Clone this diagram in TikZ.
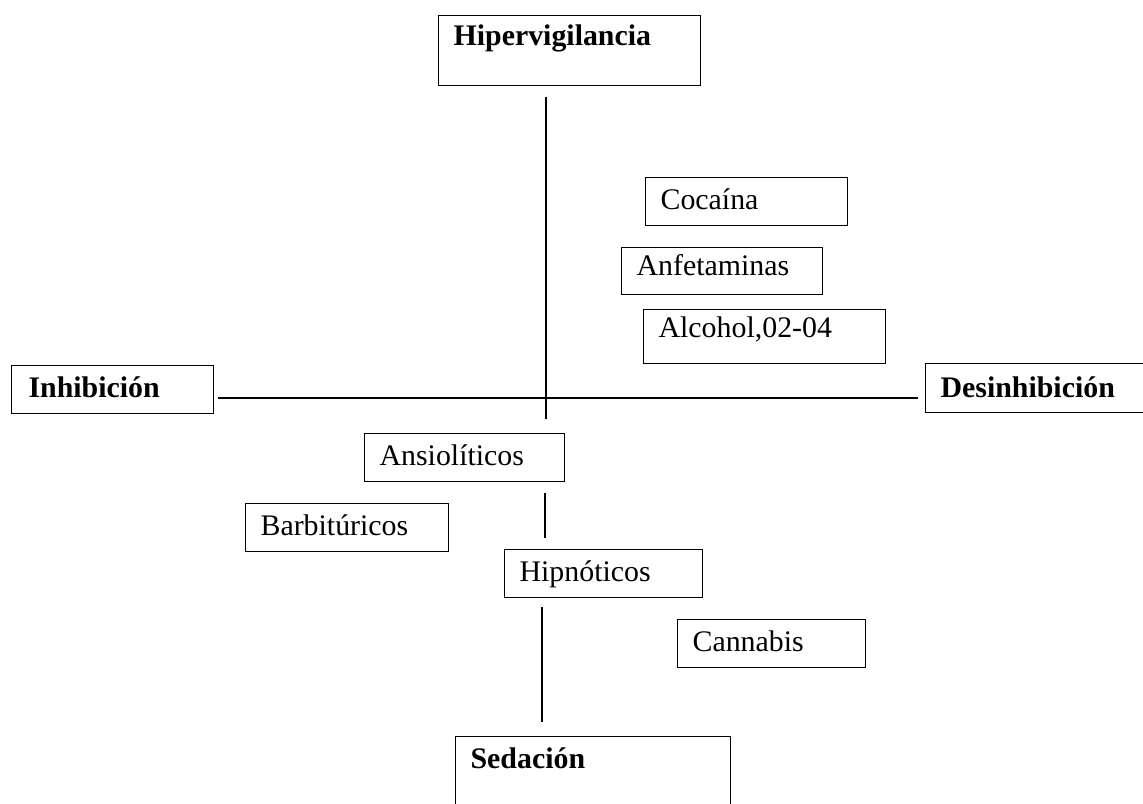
\documentclass[tikz,border=0pt]{standalone}
\usepackage{fontspec}
\setmainfont{Liberation Serif}

\begin{document}
\begin{tikzpicture}[x=0.02cm, y=-0.02cm,
	axisbox/.style={draw, line width=0.7pt, anchor=north west, align=left, inner xsep=0.3cm, inner ysep=0pt, font=\fontsize{17}{20}\selectfont\bfseries},
	drugbox/.style={draw, line width=0.7pt, anchor=north west, align=left, inner xsep=0.3cm, inner ysep=0pt, text height=0.64cm, text depth=0.32cm, font=\fontsize{17}{20}\selectfont},
	axisline/.style={line width=1pt}]
	\useasboundingbox (0,0) rectangle (1143,804);
	\node [axisbox, text width=4.64cm, text height=0.6cm, text depth=0.8cm] (hiper) at (438,15) {Hipervigilancia};
	\node [axisbox, text width=3.36cm, text height=0.64cm, text depth=0.32cm, inner xsep=0.34cm] (inhib) at (11,365) {Inhibición};
	\node [axisbox, text width=3.9cm, text height=0.68cm, text depth=0.3cm] (desin) at (925,363) {Desinhibición};
	\node [axisbox, text width=4.9cm, text height=0.64cm, text depth=0.84cm] (seda) at (455,736) {Sedación};
	\node [drugbox, text width=3.44cm] (coca) at (645,177) {Cocaína};
	\node [drugbox, text width=3.42cm, text height=0.56cm, text depth=0.38cm] (anfe) at (621,247) {Anfetaminas};
	\node [drugbox, text width=4.24cm, text height=0.56cm, text depth=0.52cm] (alco) at (643,309) {Alcohol,02-04};
	\node [drugbox, text width=3.4cm] (ansio) at (364,433) {Ansiolíticos};
	\node [drugbox, text width=3.46cm] (barbi) at (245,503) {Barbitúricos};
	\node [drugbox, text width=3.36cm] (hipno) at (504,549) {Hipnóticos};
	\node [drugbox, text width=3.16cm] (canna) at (677,619) {Cannabis};
	\coordinate (vtop) at (546,97);
	\coordinate (vbot) at (546,419);
	\coordinate (hleft) at (218,398);
	\coordinate (hright) at (918,398);
	\coordinate (ansioend) at (545,493);
	\coordinate (hipnotop) at (545,538);
	\coordinate (hipnoend) at (542,607);
	\coordinate (sedatop) at (542,722);
	\draw [axisline] (vtop) -- (vbot);
	\draw [axisline] (hleft) -- (hright);
	\draw [axisline] (ansioend) -- (hipnotop);
	\draw [axisline] (hipnoend) -- (sedatop);
\end{tikzpicture}
\end{document}
